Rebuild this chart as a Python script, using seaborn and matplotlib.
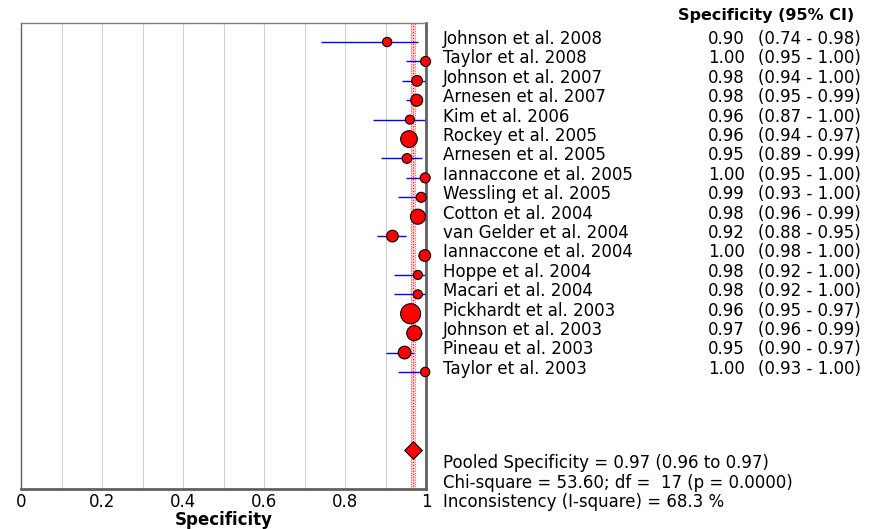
import matplotlib
matplotlib.use("Agg")
import matplotlib.pyplot as plt
import matplotlib.transforms as mtransforms
import seaborn as sns
import pandas as pd

studies = ["Johnson et al. 2008", "Taylor et al. 2008", "Johnson et al. 2007",
           "Arnesen et al. 2007", "Kim et al. 2006", "Rockey et al. 2005",
           "Arnesen et al. 2005", "Iannaccone et al. 2005", "Wessling et al. 2005",
           "Cotton et al. 2004", "van Gelder et al. 2004", "Iannaccone et al. 2004",
           "Hoppe et al. 2004", "Macari et al. 2004", "Pickhardt et al. 2003",
           "Johnson et al. 2003", "Pineau et al. 2003", "Taylor et al. 2003"]
spec = [0.90, 1.00, 0.98, 0.98, 0.96, 0.96, 0.95, 1.00, 0.99,
        0.98, 0.92, 1.00, 0.98, 0.98, 0.96, 0.97, 0.95, 1.00]
plot_spec = [0.904, 0.999, 0.978, 0.977, 0.960, 0.958, 0.953, 0.998, 0.988,
             0.980, 0.917, 0.997, 0.980, 0.980, 0.962, 0.971, 0.947, 0.998]
lo = [0.74, 0.95, 0.94, 0.95, 0.87, 0.94, 0.89, 0.95, 0.93,
      0.96, 0.88, 0.98, 0.92, 0.92, 0.95, 0.96, 0.90, 0.93]
hi = [0.98, 1.00, 1.00, 0.99, 1.00, 0.97, 0.99, 1.00, 1.00,
      0.99, 0.95, 1.00, 1.00, 1.00, 0.97, 0.99, 0.97, 1.00]
# approximate marker diameters (study weights), in pixels
diam = [9.3, 10.0, 10.7, 12.0, 9.0, 16.7, 9.7, 10.0, 10.0,
        15.0, 11.7, 11.7, 9.0, 9.0, 20.0, 15.0, 12.7, 9.3]
pooled, pooled_lo, pooled_hi = 0.968, 0.962, 0.974
footer = ["Pooled Specificity = 0.97 (0.96 to 0.97)",
          "Chi-square = 53.60; df =  17 (p = 0.0000)",
          "Inconsistency (I-square) = 68.3 %"]

df = pd.DataFrame({"study": studies, "spec": plot_spec, "lo": lo, "hi": hi,
                   "w": [d ** 2 for d in diam], "row": range(len(studies))})

sns.set_style("white")
plt.rcParams["font.family"] = ["DejaVu Sans"]
plt.rcParams["text.color"] = "black"
plt.rcParams["axes.labelcolor"] = "black"
plt.rcParams["xtick.color"] = "black"

fig = plt.figure(figsize=(8.73, 5.29), dpi=100)
ax = fig.add_axes([21 / 873, 1 - 489 / 529, 405 / 873, 466 / 529])

for g in [0.1, 0.2, 0.3, 0.4, 0.5, 0.6, 0.7, 0.8, 0.9]:
    ax.axvline(g, color="#d0d0d0", lw=0.8, zorder=0)

ax.axvspan(pooled_lo, pooled_hi, color="#ffd0d0", alpha=0.8, zorder=1, lw=0)
ax.axvline(pooled, color="red", lw=0.8, ls=":", zorder=1)
ax.axvline(pooled_lo, color="#ff6060", lw=0.8, ls=(0, (1, 1)), zorder=1)
ax.axvline(pooled_hi, color="#ff6060", lw=0.8, ls=(0, (1, 1)), zorder=1)

ax.hlines(df["row"], df["lo"], df["hi"], color="blue", lw=1.0, zorder=2)
smin = (min(diam) / 1.389) ** 2
smax = (max(diam) / 1.389) ** 2
sns.scatterplot(data=df, x="spec", y="row", size="w", sizes=(smin, smax),
                color="red", edgecolor="black", linewidth=0.8, legend=False,
                ax=ax, zorder=3)
ax.scatter([pooled], [21.0], marker="D", s=80, color="red",
           edgecolor="black", linewidth=0.8, zorder=3)
for c in ax.collections:
    c.set_clip_on(False)

ax.set_xlim(0, 1)
ax.set_ylim(23.03, -0.98)
ax.set_xticks([0, 0.2, 0.4, 0.6, 0.8, 1])
ax.set_xticklabels(["0", "0.2", "0.4", "0.6", "0.8", "1"], fontsize=12)
ax.set_yticks([])
ax.tick_params(axis="x", length=3, pad=0, colors="black")
ax.set_xlabel("Specificity", fontsize=12, fontweight="bold", labelpad=0)
ax.set_ylabel("")
for s in ax.spines.values():
    s.set_color("#808080")
    s.set_linewidth(1)
ax.spines["right"].set_color("#606060")
ax.spines["right"].set_linewidth(2)
ax.spines["bottom"].set_color("#606060")
ax.spines["bottom"].set_linewidth(2)
ax.spines["left"].set_color("#606060")

tr = mtransforms.blended_transform_factory(fig.transFigure, ax.transData)
for i, name in enumerate(studies):
    y = i + 0.1
    ax.text(443 / 873, y, name, transform=tr, fontsize=12, va="baseline", clip_on=False)
    ax.text(745 / 873, y, f"{spec[i]:.2f}", transform=tr, fontsize=12,
            va="baseline", ha="right", clip_on=False)
    ax.text(758 / 873, y, f"({lo[i]:.2f} - {hi[i]:.2f})", transform=tr, fontsize=12,
            va="baseline", clip_on=False)
fig.text(854 / 873, 1 - 20 / 529, "Specificity (95% CI)", fontsize=11.5,
         fontweight="bold", va="baseline", ha="right")
for j, line in enumerate(footer):
    fig.text(443 / 873, 1 - (468 + 19.5 * j) / 529, line, fontsize=12, va="baseline")

fig.savefig("out.png", dpi=100)
